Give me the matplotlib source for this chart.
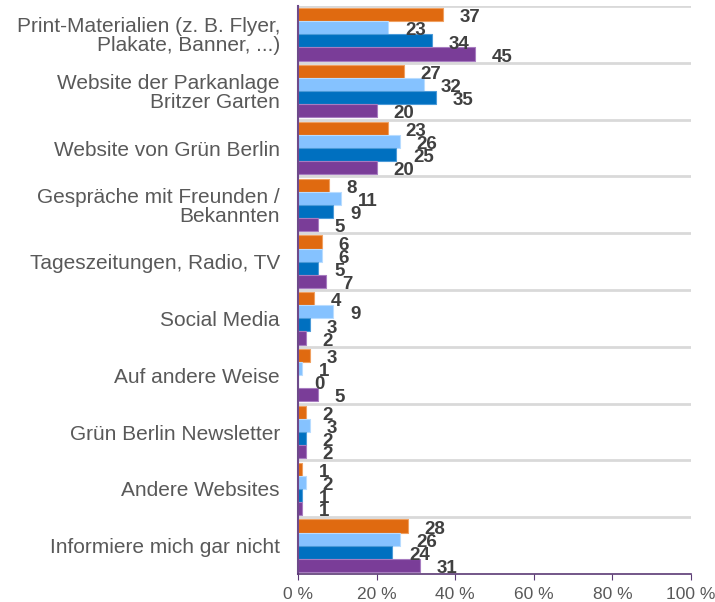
import numpy as np
import matplotlib.pyplot as plt

plt.rcParams['font.family'] = ['Liberation Sans', 'DejaVu Sans']

categories = [
    "Print-Materialien (z. B. Flyer,\nPlakate, Banner, ...)",
    "Website der Parkanlage\nBritzer Garten",
    "Website von Grün Berlin",
    "Gespräche mit Freunden /\nBekannten",
    "Tageszeitungen, Radio, TV",
    "Social Media",
    "Auf andere Weise",
    "Grün Berlin Newsletter",
    "Andere Websites",
    "Informiere mich gar nicht",
]
series_orange = [37, 27, 23, 8, 6, 4, 3, 2, 1, 28]
series_lightblue = [23, 32, 26, 11, 6, 9, 1, 3, 2, 26]
series_blue = [34, 35, 25, 9, 5, 3, 0, 2, 1, 24]
series_purple = [45, 20, 20, 5, 7, 2, 5, 2, 1, 31]
xticks = [0, 20, 40, 60, 80, 100]

all_series = [series_orange, series_lightblue, series_blue, series_purple]
colors = ["#E06A10", "#85C2FF", "#0070C0", "#7A3D98"]
edges = ["#F0A060", "#B8DCFF", "#4A9AD8", "#A77CC0"]

fig = plt.figure(figsize=(7.15, 6.02), dpi=100)
ax = fig.add_axes([0.4168, 0.0465, 0.5496, 0.9435])

h = 0.23
offsets = [-1.5 * h, -0.5 * h, 0.5 * h, 1.5 * h]
y = np.arange(len(categories))

for vals, col, ec, off in zip(all_series, colors, edges, offsets):
    ax.barh(y + off, vals, height=h, color=col, edgecolor=ec, linewidth=0.8)
    for yi, v in zip(y, vals):
        ax.annotate(f"{v:d}", (v, yi + off), xytext=(12, -2.2), textcoords="offset points",
                    ha="left", va="center", fontsize=13.5, fontweight="bold", color="#404040")

# category separators
for b in np.arange(-0.5, len(categories) - 1, 1.0):
    ax.axhline(b, color="#D9D9D9", linewidth=2, zorder=0)

ax.set_xlim(0, 100)
ax.set_ylim(len(categories) - 0.5, -0.5)
ax.set_yticks(y)
ax.set_yticklabels(categories, fontsize=15, color="#595959", ha="right", linespacing=1.0)
ax.tick_params(axis="y", length=0, pad=13)
ax.set_xticks(xticks)
ax.set_xticklabels([f"{t} %" for t in xticks], fontsize=12.5, color="#595959")
ax.tick_params(axis="x", direction="out", length=4, color="#5B3A74", pad=5)

for s in ["top", "right"]:
    ax.spines[s].set_visible(False)
ax.spines["left"].set_color("#6E4A8A")
ax.spines["bottom"].set_color("#5B3A74")
ax.spines["left"].set_linewidth(1.5)
ax.spines["bottom"].set_linewidth(1.2)

fig.savefig("out.png", dpi=100)
